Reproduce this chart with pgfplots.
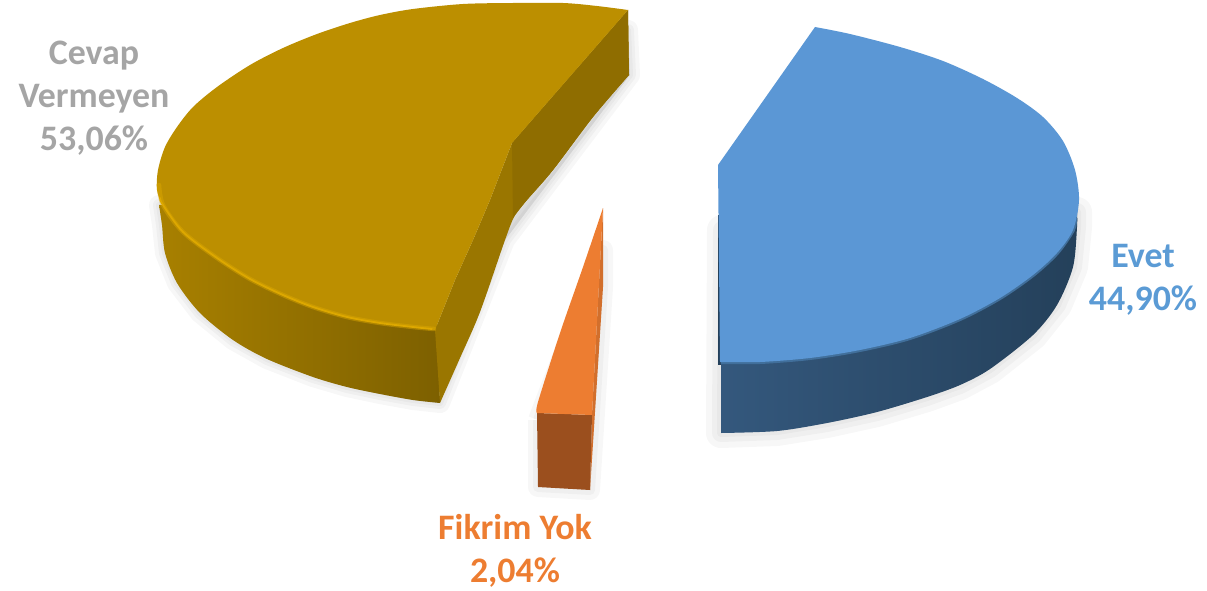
\documentclass[border=0pt]{standalone}
\usepackage{pgfplots}
\usepackage{pgfplotstable}
\usepackage{fontspec}
\setmainfont{Carlito}
\pgfplotsset{compat=1.18}
\definecolor{gtop}{HTML}{BC8F00}
\definecolor{grim}{HTML}{DDA800}
\definecolor{gin}{HTML}{9A7600}
\definecolor{gup}{HTML}{8F6D00}
\definecolor{gl}{HTML}{A88000}
\definecolor{gm}{HTML}{957200}
\definecolor{gr}{HTML}{7D6000}
\definecolor{bl}{HTML}{34587D}
\definecolor{bm}{HTML}{223D55}
\definecolor{br}{HTML}{24405A}
\definecolor{btop}{HTML}{5B97D5}
\definecolor{otop}{HTML}{ED7D31}
\definecolor{ofront}{HTML}{9B4F1E}
\definecolor{oside}{HTML}{D26F2C}
\definecolor{lblgray}{HTML}{A5A5A5}
\definecolor{lblblue}{HTML}{5B9BD5}
% outer lower edge of the gold wall
\pgfplotstableread{
x y
159 205
162 225
165 253
177 283
200 313
233 340
267 359
313 377
347 387
380 394
413 400
440 403
}\goldlow
% lower edge of the gold inner wall
\pgfplotstableread{
x y
440 403
460 358
480 312
505 240
515 215
527 200
553 170
593 117
629 75
}\goldinlow
% top face of the gold slice: outer arc
\pgfplotstableread{
x y
628 10
597 6
563 3
513 3
463 4
413 9
380 15
350 23
317 34
283 48
250 65
217 87
193 107
177 127
165 147
158 170
157 190
163 205
183 232
217 258
250 279
283 295
313 307
347 317
380 323
413 327
435 330
}\goldarc
% blue wall lower edge
\pgfplotstableread{
x y
1077 212
1077 227
1073 267
1057 305
1033 335
990 369
960 385
927 397
877 412
827 423
777 431
721 433
}\bluelow
% blue top arc
\pgfplotstableread{
x y
815 27
850 34
900 47
943 61
983 79
1017 98
1043 117
1063 141
1075 170
1079 200
1073 230
1057 253
1033 275
1000 298
960 319
910 338
860 350
810 358
760 362
720 362
}\bluearc
\pgfplotsset{
  sh/.style={draw=black, draw opacity=.03, fill=black, fill opacity=.03, line width=#1, line join=round, forget plot}}
\begin{document}
\begin{tikzpicture}
\useasboundingbox (0,0) rectangle (1207bp,591bp);
\begin{axis}[
  scale only axis, width=1207bp, height=591bp,
  xmin=0, xmax=1207, ymin=0, ymax=591, y dir=reverse,
  axis lines=none, clip=false]
% soft shadows
\addplot[sh=20bp] table {\goldlow} -- (axis cs:505,240) -- (axis cs:630,75) -- (axis cs:628,30) -- (axis cs:400,200) -- cycle;
\addplot[sh=12bp] table {\goldlow} -- (axis cs:505,240) -- (axis cs:630,75) -- (axis cs:628,30) -- (axis cs:400,200) -- cycle;
\addplot[sh=6bp] table {\goldlow} -- (axis cs:505,240) -- (axis cs:630,75) -- (axis cs:628,30) -- (axis cs:400,200) -- cycle;
\addplot[sh=30bp] table {\bluelow} -- (axis cs:722,230) -- cycle;
\addplot[sh=18bp] table {\bluelow} -- (axis cs:722,230) -- cycle;
\addplot[sh=8bp] table {\bluelow} -- (axis cs:722,230) -- cycle;
\addplot[sh=20bp] coordinates {(538,420) (538,487) (590,490) (603,287) (603,250) (538,420)};
\addplot[sh=10bp] coordinates {(538,420) (538,487) (590,490) (603,287) (603,250) (538,420)};
% gold slice
\addplot[smooth, draw=none, left color=gl, middle color=gm, right color=gr] table {\goldlow} -- (axis cs:437,320) -- (axis cs:300,200) -- cycle;
\addplot[smooth, draw=none, fill=gin] table {\goldinlow} -- (axis cs:628,10) -- (axis cs:512,143) -- (axis cs:490,200) -- (axis cs:473,240) -- (axis cs:455,280) -- (axis cs:435,330) -- cycle;
\addplot[smooth, draw=none, fill=gup] coordinates {(513,218) (527,200) (553,170) (593,117) (629,75)} -- (axis cs:628,10) -- (axis cs:512,143) -- cycle;
\addplot[smooth, draw=none, fill=gtop] table {\goldarc} -- (axis cs:455,280) -- (axis cs:473,240) -- (axis cs:490,200) -- (axis cs:512,143) -- cycle;
\addplot[smooth, draw=grim, draw opacity=.45, line width=4.5bp, line cap=round] coordinates {(159,185) (163,205) (183,232) (217,258) (250,279) (283,295) (313,307) (347,317) (380,323) (413,327) (434,329)};
\addplot[smooth, draw=grim, line width=1.8bp, line cap=round] coordinates {(160,198) (163,205) (183,232) (217,258) (250,279) (283,295) (313,307) (347,317) (380,323) (413,327) (432,329)};
% blue slice
\addplot[smooth, draw=none, left color=bl, middle color=bm, right color=br] table {\bluelow} -- (axis cs:721,300) -- (axis cs:900,200) -- cycle;
\addplot[draw=none, fill=br] coordinates {(717.5,215) (721,215) (721,365) (717.5,365)};
\addplot[smooth, draw=bm!45!btop, line width=4bp] coordinates {(1075,218) (1073,230) (1057,253) (1033,275) (1000,298) (960,319) (910,338) (860,350) (810,358) (760,362) (721,362)};
\addplot[smooth, draw=none, fill=btop] table {\bluearc} -- (axis cs:718,165) -- cycle;
% orange slice
\addplot[draw=none, fill=oside] coordinates {(603,208) (603,287) (590,490) (592,415)};
\addplot[draw=none, fill=ofront] coordinates {(537,413) (538,487) (590,490) (592,415)};
\addplot[smooth, draw=none, fill=otop] coordinates {(603,208) (583,267) (560,333) (538,402) (537,413)} -- (axis cs:592,415) -- cycle;
% labels
\node[align=center, text=lblgray, font=\fontsize{36}{43}\selectfont\bfseries] at (axis cs:94,98) {Cevap\\Vermeyen\\53,06\%};
\node[align=center, text=lblblue, font=\fontsize{36}{43}\selectfont\bfseries] at (axis cs:1143,280) {Evet\\44,90\%};
\node[align=center, text=otop, font=\fontsize{36}{43}\selectfont\bfseries] at (axis cs:515,551) {Fikrim Yok\\2,04\%};
\end{axis}
\end{tikzpicture}
\end{document}
